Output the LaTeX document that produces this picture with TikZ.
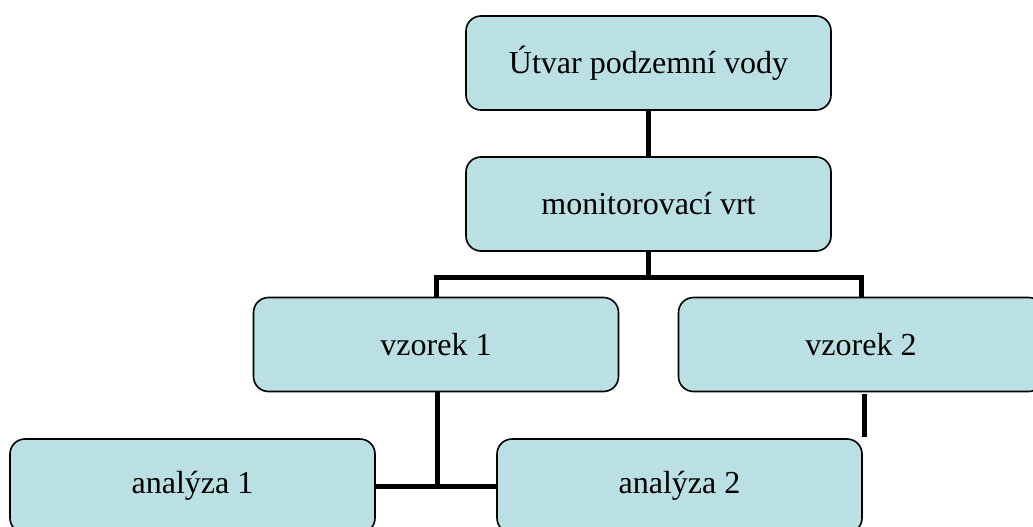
\documentclass[tikz,border=0pt]{standalone}
\usepackage{fontspec}
\setmainfont{Liberation Serif}
\definecolor{boxfill}{RGB}{187,224,227}
\begin{document}
\begin{tikzpicture}[x=1pt,y=1pt,
  orgbox/.style={draw=black, line width=1.6pt, fill=boxfill, rounded corners=15pt,
    minimum width=365pt, minimum height=94pt, inner sep=0pt,
    font=\fontsize{32}{38}\selectfont},
  conn/.style={draw=black, line width=5pt, line join=miter}]
\useasboundingbox (0,0) rectangle (1033,-527);
\clip (0,0) rectangle (1033,-527);

% boxes of the hierarchy
\node[orgbox] (body) at (648.5,-63) {Útvar podzemní vody};
\node[orgbox] (well) at (648.5,-204) {monitorovací vrt};
\node[orgbox] (s1)   at (436,-344.5) {vzorek 1};
\node[orgbox] (s2)   at (861,-344.5) {vzorek 2};
\node[orgbox] (a1)   at (192.5,-486) {analýza 1};
\node[orgbox] (a2)   at (679.5,-486) {analýza 2};

% branch points
\coordinate (bar) at (648.5,-277);
\coordinate (join) at (437,-486);
\coordinate (stubtop) at (864,-394);
\coordinate (stubend) at (864,-437);

% connectors
\draw[conn] (body.south) -- (well.north);
\draw[conn] (well.south) -- (bar);
\draw[conn] (s1.north) |- (bar) -| (s2.north);
\draw[conn] (s1.south -| join) -- (join);
\draw[conn] (a1.east) -- (a2.west);
\draw[conn] (stubtop) -- (stubend);
\end{tikzpicture}
\end{document}
